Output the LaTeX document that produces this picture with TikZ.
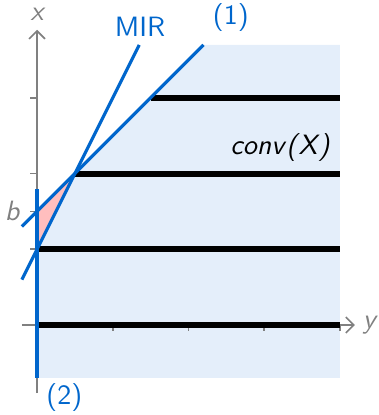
\documentclass[tikz,border=0pt]{standalone}
\usepackage{fontspec}
\usetikzlibrary{arrows.meta}
\definecolor{myblue}{RGB}{0,102,204}
\definecolor{lightfill}{RGB}{228,238,250}
\definecolor{pinkfill}{RGB}{255,190,190}
\definecolor{axgray}{RGB}{128,128,128}
\begin{document}
\begin{tikzpicture}[
  axis/.style={draw=axgray, line width=0.6pt},
  tickmark/.style={draw=axgray, line width=0.6pt},
  level/.style={draw=black, line width=2.3pt},
  cut/.style={draw=myblue, line width=1.2pt},
  lbl/.style={font=\sffamily\fontsize{10.5}{12}\selectfont, inner sep=1pt},
  mlbl/.style={font=\sffamily\slshape\fontsize{10.5}{12}\selectfont, inner sep=1pt},
]
\useasboundingbox (-0.489,-1.189) rectangle (4.505,4.293);
% shaded conv(X)
\fill[lightfill] (0,-0.7) -- (4,-0.7) -- (4,3.7) -- (2.2,3.7) -- (0,1.5) -- cycle;
% pink triangle
\fill[pinkfill] (0,1.5) -- (0.5,2) -- (0,1) -- cycle;
% axes
\draw[axis, -{Straight Barb[length=3pt,width=6pt]}] (-0.2,0) -- (4.2,0);
\draw[axis, -{Straight Barb[length=3pt,width=6pt]}] (0,-0.9) -- (0,3.9);
\foreach \t in {1,2,3,4} \draw[tickmark] (\t,0) -- (\t,-0.08);
\foreach \t in {1,1.5,2,3} \draw[tickmark] (0,\t) -- (-0.09,\t);
\node[mlbl, text=axgray] (xl) at (0,4.11) {x};
\node[mlbl, text=axgray] (yl) at (4.39,0) {y};
\node[mlbl, text=axgray] (bl) at (-0.33,1.5) {b};
% level lines
\draw[level] (0,0) -- (4,0);
\draw[level] (0,1) -- (4,1);
\draw[level] (0.5,2) -- (4,2);
\draw[level] (1.5,3) -- (4,3);
% cuts
\coordinate (c1a) at (-0.2,1.3);
\coordinate (c1b) at (2.2,3.7);
\coordinate (mira) at (-0.2,0.6);
\coordinate (mirb) at (1.35,3.7);
\coordinate (c2a) at (0,-0.7);
\coordinate (c2b) at (0,1.8);
\draw[cut] (c1a) -- (c1b);
\draw[cut] (mira) -- (mirb);
\draw[cut] (c2a) -- (c2b);
\node[lbl, text=myblue] (mir) at (1.36,3.94) {MIR};
\node[lbl, text=myblue] (one) at (2.56,4.06) {(1)};
\node[lbl, text=myblue] (two) at (0.36,-0.96) {(2)};
\node[mlbl] (conv) at (3.21,2.34) {conv\kern0.08em(\kern0.05em X\kern0.05em)};
\end{tikzpicture}
\end{document}
